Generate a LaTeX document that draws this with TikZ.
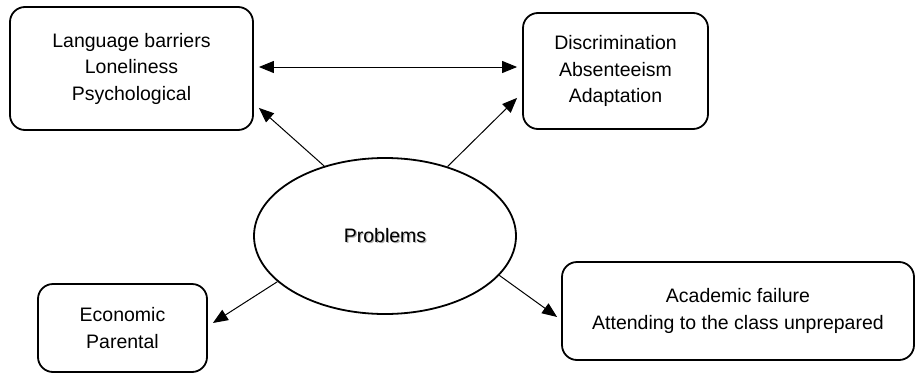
\documentclass[tikz,border=0pt]{standalone}
\usepackage{fontspec}
\setmainfont{Liberation Sans}
\usetikzlibrary{arrows.meta,calc,shapes.geometric}
\begin{document}
\begin{tikzpicture}[x=1pt,y=-1pt,
  box/.style={draw,line width=1.8pt,rounded corners=15pt,align=center,inner sep=0pt,
              font=\fontsize{19.5}{26.5}\selectfont},
  tip/.style={Triangle[length=15pt,width=12pt]},
  arr/.style={line width=1pt,-{Triangle[length=15pt,width=12pt]}}]
\useasboundingbox (0,0) rectangle (916,375);
\node[box,minimum width=243pt,minimum height=123pt] (b1) at (131.5,68.5)
  {Language barriers\\Loneliness\\Psychological};
\node[box,minimum width=185pt,minimum height=116pt] (b2) at (615.5,71)
  {Discrimination\\Absenteeism\\Adaptation};
\node[box,minimum width=169pt,minimum height=88pt] (econ) at (122.5,328)
  {Economic\\Parental};
\node[box,minimum width=352pt,minimum height=98pt] (acad) at (738,311)
  {Academic failure\\Attending to the class unprepared};
\node[draw,ellipse,line width=1.8pt,inner sep=0pt,minimum width=262pt,minimum height=156pt,
      font=\fontsize{19.5}{26.5}\selectfont] (e) at (385,236)
  {\rlap{\hspace{1.2pt}\raisebox{-1.2pt}{\color{black!30}Problems}}Problems};
\draw[line width=1pt,{Triangle[length=15pt,width=12pt]}-{Triangle[length=15pt,width=12pt]}]
  ($(b1.east)+(5,-1.5)$) -- ($(b1.east -| b2.west)+(-5,-1.5)$);
\draw[arr] (e.131) -- ($(b1.south east)+(5,-23)$);
\draw[arr] (e.48) -- ($(b2.south west)+(-5,-32)$);
\draw[arr] (e.203) -- ($(econ.east)+(5,-5)$);
\draw[arr] (e.341) -- ($(acad.west)+(-4,6)$);
\end{tikzpicture}
\end{document}
